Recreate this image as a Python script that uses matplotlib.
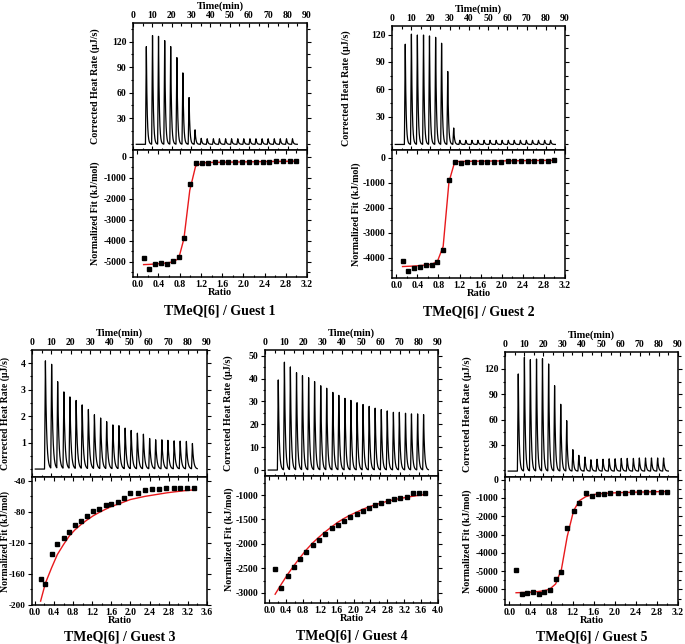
import numpy as np
import matplotlib
matplotlib.use("Agg")
import matplotlib.pyplot as plt
from matplotlib.ticker import AutoMinorLocator, FixedLocator, FormatStrFormatter

plt.rcParams["font.family"] = ["Liberation Serif", "DejaVu Serif"]
plt.rcParams["font.weight"] = "bold"
plt.rcParams["axes.unicode_minus"] = False

W, H = 685, 644

# ----------------------------
# DATA
# ----------------------------
INJ_TIMES = [6.9, 10.1, 13.2, 16.4, 19.5, 22.7, 25.8, 29.0, 32.1, 35.3, 38.4, 41.6, 44.7,
             47.9, 51.0, 54.2, 57.3, 60.5, 63.6, 66.8, 69.9, 73.1, 76.2, 79.4, 82.5]

G1_HEAT = [115, 128, 127, 122, 115, 102, 84, 55, 17, 7, 6.5, 6.5, 6.5, 6.5, 6.5, 6.5,
           6.5, 6.5, 6.5, 6.5, 6.5, 6.5, 6.5, 6.5, 6.5]
G2_HEAT = [110, 121, 120, 120, 119, 117.5, 111, 80, 18, 4.5, 4.5, 4.5, 4.5, 4.5, 4.5,
           4.5, 4.5, 4.5, 4.5, 4.5, 4.5, 4.5, 4.5, 4.5, 4.5]
G3_HEAT = [4.09, 3.94, 3.28, 2.90, 2.71, 2.58, 2.41, 2.24, 2.04, 1.92, 1.78, 1.66, 1.63,
           1.54, 1.45, 1.35, 1.31, 1.15, 1.10, 1.10, 1.08, 1.06, 1.05, 1.04, 0.96]
G4_HEAT = [39.4, 47.1, 45.0, 42.5, 41.2, 40.3, 38.6, 36.8, 35.7, 33.9, 32.6, 31.3, 30.4,
           29.4, 28.6, 27.8, 27.0, 26.4, 25.8, 25.2, 25.2, 24.8, 24.5, 24.5, 24.2]
G5_HEAT = [115, 134.6, 131.8, 132.6, 133, 126.7, 101, 79, 59.6, 25.3, 18.6, 16.6, 13.4,
           14, 14, 14.5, 14.5, 15, 15, 15, 15.5, 15.5, 15.5, 15.5, 15.5]

G1_RATIO = [0.12, 0.23, 0.34, 0.45, 0.56, 0.67, 0.78, 0.88, 0.99, 1.10, 1.22, 1.34, 1.47,
            1.60, 1.72, 1.85, 1.98, 2.11, 2.24, 2.37, 2.49, 2.62, 2.75, 2.88, 3.00]
G1_PTS = [-4840, -5320, -5110, -5050, -5080, -4970, -4790, -3880, -1280, -320, -290, -275,
          -270, -265, -260, -255, -250, -245, -240, -235, -230, -225, -220, -215, -210]
G1_FIT = [-5130, -5120, -5100, -5080, -5050, -5000, -4850, -3900, -1600, -450, -300, -275,
          -268, -262, -257, -252, -247, -242, -237, -232, -228, -224, -220, -215, -211]

G2_RATIO = [0.12, 0.23, 0.34, 0.46, 0.56, 0.67, 0.78, 0.89, 1.00, 1.11, 1.22, 1.34, 1.47,
            1.60, 1.72, 1.85, 1.98, 2.11, 2.24, 2.37, 2.49, 2.62, 2.75, 2.88, 3.00]
G2_PTS = [-4157, -4520, -4400, -4360, -4300, -4280, -4170, -3680, -880, -175, -200, -170,
          -165, -160, -155, -150, -145, -140, -135, -130, -125, -120, -115, -110, -100]
G2_FIT = [-4360, -4350, -4340, -4320, -4300, -4270, -4160, -3550, -960, -150, -140, -135,
          -130, -127, -124, -121, -118, -115, -112, -109, -106, -103, -100, -97, -95]

G3_RATIO = [0.12, 0.22, 0.35, 0.47, 0.60, 0.72, 0.84, 0.97, 1.10, 1.22, 1.35, 1.48, 1.60,
            1.74, 1.87, 2.00, 2.15, 2.30, 2.45, 2.60, 2.75, 2.90, 3.04, 3.18, 3.32]
G3_PTS = [-167, -173, -134, -122, -114, -106, -97, -92, -85, -79, -76, -71, -70,
          -67, -62, -56, -55, -52, -50, -50, -49, -49, -49, -49, -49]
G3_FIT = [-195, -172, -152, -135, -122, -111, -103, -96, -90, -85, -80.5, -76.5, -73,
          -70, -67, -64, -62, -60, -58.5, -57, -55.5, -54.3, -53.3, -52.3, -51.7]

G4_RATIO = [0.14, 0.29, 0.44, 0.59, 0.74, 0.88, 1.03, 1.18, 1.33, 1.48, 1.62, 1.77, 1.92,
            2.07, 2.22, 2.37, 2.51, 2.66, 2.81, 2.96, 3.11, 3.26, 3.40, 3.55, 3.70]
G4_PTS = [-2520, -2905, -2655, -2475, -2315, -2165, -2020, -1915, -1795, -1680, -1620, -1530,
          -1445, -1390, -1320, -1260, -1210, -1165, -1120, -1085, -1060, -1030, -955, -960, -950]
G4_FIT = [-3030, -2820, -2620, -2440, -2270, -2120, -1980, -1860, -1750, -1650, -1560, -1480,
          -1410, -1350, -1290, -1240, -1200, -1160, -1125, -1095, -1070, -1045, -1025, -1005, -990]

G5_RATIO = [0.13, 0.24, 0.34, 0.45, 0.56, 0.66, 0.77, 0.88, 0.99, 1.10, 1.22, 1.33, 1.45,
            1.57, 1.68, 1.80, 1.92, 2.06, 2.20, 2.33, 2.46, 2.60, 2.73, 2.87, 3.00]
G5_PTS = [-4960, -6270, -6200, -6160, -6250, -6150, -6050, -5450, -5070, -2620, -1730, -1250,
          -745, -890, -780, -760, -740, -720, -710, -700, -690, -680, -670, -660, -650]
G5_FIT = [-6180, -6170, -6160, -6140, -6110, -6070, -5980, -5700, -4900, -3100, -1700, -1150,
          -930, -830, -780, -750, -730, -715, -700, -690, -680, -670, -662, -655, -648]

TITLES = ["TMeQ[6] / Guest 1", "TMeQ[6] / Guest 2", "TMeQ[6] / Guest 3",
          "TMeQ[6] / Guest 4", "TMeQ[6] / Guest 5"]


def px_axes(fig, left, right, top, bottom):
    return fig.add_axes([left / W, 1 - bottom / H, (right - left) / W, (bottom - top) / H])


def thermogram(times, heights, base, rise, tau):
    # sharp rise, exponential return to baseline for every injection
    t = np.arange(1.7, 85.0, 0.02)
    y = np.full_like(t, base)
    for t0, h in zip(times, heights):
        dt = t - t0
        up = (dt > -rise) & (dt <= 0)
        y[up] += h * (1 + dt[up] / rise)
        dn = dt > 0
        y[dn] += h * np.exp(-dt[dn] / tau)
    return t, y


def style(ax, ylab_size=7):
    for s in ax.spines.values():
        s.set_linewidth(1.1)
    ax.tick_params(which="both", direction="in", top=True, right=True, width=0.8,
                   labelsize=7, pad=2)
    ax.tick_params(which="major", length=3)
    ax.tick_params(which="minor", length=1.8)
    ax.yaxis.set_minor_locator(AutoMinorLocator(2))
    ax.xaxis.set_minor_locator(AutoMinorLocator(2))
    ax.tick_params(axis="y", which="both", direction="out", pad=1.5, labelsize=ylab_size)


# panel geometry in pixels: left, right, top, divider, bottom
# lab = x offset (px) of the right side of the rotated y labels
PANELS = [
    dict(box=(133, 307, 23, 150, 277), heat=G1_HEAT, ratio=G1_RATIO, pts=G1_PTS, fit=G1_FIT,
         tlim=(-7.5, 142), tticks=[30, 60, 90, 120], base=-0.8, tau=0.42,
         blim=(-5720, 320), bticks=[0, -1000, -2000, -3000, -4000, -5000],
         xlim=(-0.08, 3.2), xticks=np.arange(0, 3.21, 0.4), lab=(-33, -33), tpad=34,
         tls=7, yls=7.2),
    dict(box=(392, 565, 26, 150, 278), heat=G2_HEAT, ratio=G2_RATIO, pts=G2_PTS, fit=G2_FIT,
         tlim=(-6.6, 129.5), tticks=[30, 60, 90, 120], base=-0.5, tau=0.42,
         blim=(-4820, 320), bticks=[0, -1000, -2000, -3000, -4000],
         xlim=(-0.08, 3.2), xticks=np.arange(0, 3.21, 0.4), lab=(-41, -31), tpad=34,
         tls=7, yls=7.2),
    dict(box=(32, 207, 350, 477, 605), heat=G3_HEAT, ratio=G3_RATIO, pts=G3_PTS, fit=G3_FIT,
         tlim=(-0.3, 4.5), tticks=[1, 2, 3, 4], base=0.0, tau=0.6,
         blim=(-200, -35), bticks=[-40, -80, -120, -160, -200],
         xlim=(-0.06, 3.6), xticks=np.arange(0, 3.61, 0.4), lab=(-22, -22), tpad=32,
         tls=6.6, yls=7.0),
    dict(box=(265, 438, 350, 476, 603), heat=G4_HEAT, ratio=G4_RATIO, pts=G4_PTS, fit=G4_FIT,
         tlim=(-2.6, 52.5), tticks=[0, 10, 20, 30, 40, 50], base=0.0, tau=0.5,
         blim=(-3210, -610), bticks=[-1000, -1500, -2000, -2500, -3000],
         xlim=(-0.1, 4.0), xticks=np.arange(0, 4.01, 0.4), lab=(-32, -31), tpad=33,
         tls=7, yls=7.2),
    dict(box=(505, 678, 352, 477, 605), heat=G5_HEAT, ratio=G5_RATIO, pts=G5_PTS, fit=G5_FIT,
         tlim=(-8, 140), tticks=[30, 60, 90, 120], base=-1.0, tau=0.45,
         blim=(-6850, 145), bticks=[0, -1000, -2000, -3000, -4000, -5000, -6000],
         xlim=(-0.08, 3.2), xticks=np.arange(0, 3.21, 0.4), lab=(-33, -33), tpad=32,
         tls=7, yls=7.2),
]

fig = plt.figure(figsize=(W / 100, H / 100), dpi=100)

for p, title in zip(PANELS, TITLES):
    left, right, top, mid, bottom = p["box"]
    width = right - left

    # raw heat rate
    ax1 = px_axes(fig, left, right, top, mid)
    t, y = thermogram(INJ_TIMES, p["heat"], p["base"], 0.45, p["tau"])
    ax1.plot(t, y, color="black", lw=0.9)
    ax1.set_xlim(0, 90)
    ax1.set_ylim(*p["tlim"])
    ax1.xaxis.set_major_locator(FixedLocator(range(0, 91, 10)))
    ax1.yaxis.set_major_locator(FixedLocator(p["tticks"]))
    style(ax1)
    ax1.tick_params(axis="x", labeltop=True, labelbottom=False)
    ax1.xaxis.set_label_position("top")
    ax1.set_xlabel("Time(min)", fontsize=7.5, fontweight="bold", labelpad=1.5)
    ax1.set_ylabel("Corrected Heat Rate (\u03bcJ/s)", fontsize=p["yls"], fontweight="bold")
    ax1.yaxis.set_label_coords(p["lab"][0] / width, 0.5)

    # integrated heats and fit
    ax2 = px_axes(fig, left, right, mid, bottom)
    ax2.plot(p["ratio"], p["fit"], color="#e8191c", lw=1.0, zorder=2)
    ax2.plot(p["ratio"], p["pts"], "s", color="black", ms=2.8, zorder=3)
    ax2.set_xlim(*p["xlim"])
    ax2.set_ylim(*p["blim"])
    ax2.xaxis.set_major_locator(FixedLocator(p["xticks"]))
    ax2.yaxis.set_major_locator(FixedLocator(p["bticks"]))
    ax2.xaxis.set_major_formatter(FormatStrFormatter("%.1f"))
    style(ax2, p["tls"])
    ax2.set_xlabel("Ratio", fontsize=7.5, fontweight="bold", labelpad=-0.5)
    ax2.set_ylabel("Normalized Fit (kJ/mol)", fontsize=p["yls"], fontweight="bold")
    ax2.yaxis.set_label_coords(p["lab"][1] / width, 0.5)

    fig.text((left + right) / 2 / W, 1 - (bottom + p["tpad"]) / H, title, ha="center",
             va="center", fontsize=10, fontweight="bold")

fig.savefig("out.png", dpi=100)
